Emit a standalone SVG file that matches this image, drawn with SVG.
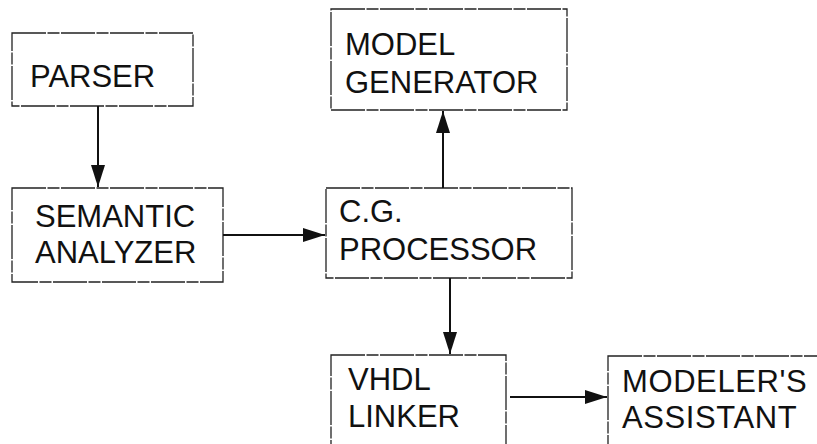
<svg xmlns="http://www.w3.org/2000/svg" width="817" height="444" viewBox="0 0 817 444">
<style>
.box{fill:none;stroke:#222;stroke-width:1.3;stroke-dasharray:34 1.5 12 1.5}
.lbl{font-family:"Liberation Sans",Arial,sans-serif;font-size:31px;fill:#111}
.conn{stroke:#111;stroke-width:2;fill:none}
</style>
<defs>
<marker id="ah" markerUnits="userSpaceOnUse" markerWidth="22" markerHeight="14" refX="22" refY="7" orient="auto">
<path d="M0,0 L22,7 L0,14 Z" fill="#111"/>
</marker>
</defs>
<rect width="817" height="444" fill="#fff"/>
<g id="parser">
<rect class="box" x="12" y="33" width="181" height="73"/>
<text class="lbl" x="30" y="87">PARSER</text>
</g>
<g id="semantic-analyzer">
<rect class="box" x="12" y="188" width="211" height="94"/>
<text class="lbl" x="35" y="227">SEMANTIC</text>
<text class="lbl" x="35" y="263">ANALYZER</text>
</g>
<g id="model-generator">
<rect class="box" x="331" y="9" width="236" height="101"/>
<text class="lbl" x="345" y="55">MODEL</text>
<text class="lbl" x="345" y="93">GENERATOR</text>
</g>
<g id="cg-processor">
<rect class="box" x="326" y="188" width="246" height="90"/>
<text class="lbl" x="339" y="222">C.G.</text>
<text class="lbl" x="339" y="260">PROCESSOR</text>
</g>
<g id="vhdl-linker">
<rect class="box" x="331" y="355" width="175" height="105"/>
<text class="lbl" x="348" y="390">VHDL</text>
<text class="lbl" x="348" y="427">LINKER</text>
</g>
<g id="modelers-assistant">
<rect class="box" x="608" y="356" width="222" height="104"/>
<text class="lbl" x="622" y="392" letter-spacing="0.6">MODELER'S</text>
<text class="lbl" x="622" y="428" letter-spacing="0.6">ASSISTANT</text>
</g>
<g id="connectors">
<line class="conn" x1="98" y1="106" x2="98" y2="187" marker-end="url(#ah)"/>
<line class="conn" x1="223" y1="235" x2="325" y2="235" marker-end="url(#ah)"/>
<line class="conn" x1="443" y1="188" x2="443" y2="111" marker-end="url(#ah)"/>
<line class="conn" x1="450" y1="278" x2="450" y2="354" marker-end="url(#ah)"/>
<line class="conn" x1="510" y1="397" x2="607" y2="397" marker-end="url(#ah)"/>
</g>
</svg>
